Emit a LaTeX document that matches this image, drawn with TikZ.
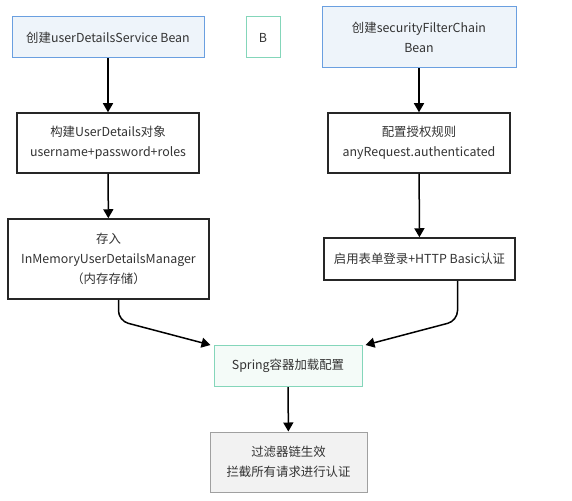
\documentclass[tikz,border=0pt]{standalone}
\usepackage{fontspec}
\setmainfont{Noto Sans CJK SC}
\usetikzlibrary{positioning,arrows.meta}
\definecolor{startC}{HTML}{EEF4FA}
\definecolor{startB}{HTML}{6A9FE0}
\definecolor{springC}{HTML}{F4FBF8}
\definecolor{springB}{HTML}{84D6BA}
\definecolor{endC}{HTML}{F2F2F2}
\definecolor{endB}{HTML}{A0A0A0}
\definecolor{txtC}{HTML}{333333}
\tikzset{
  box/.style={draw, rectangle, align=center, text=txtC, inner sep=2pt,
              font=\fontsize{12.4}{20}\selectfont, line width=1.5pt},
  startbox/.style={box, draw=startB, fill=startC, line width=1pt},
  stepbox/.style={box, draw=black!85, fill=white},
  springbox/.style={box, draw=springB, fill=springC, line width=1pt},
  endbox/.style={box, draw=endB, fill=endC, line width=1pt},
  flow/.style={-{Triangle[length=9pt,width=10pt]}, line width=1.5pt},
}
\begin{document}
\begin{tikzpicture}[x=1pt,y=-1pt]
\useasboundingbox (0,0) rectangle (572,500);
% left branch
\node[startbox, minimum width=192pt, minimum height=41pt] (uds) at (108,37.5) {创建userDetailsService Bean};
\node[stepbox, minimum width=182pt, minimum height=60pt] (build) at (108,143) {构建UserDetails对象\\username+password+roles};
\node[stepbox, minimum width=201pt, minimum height=80pt] (store) at (108.5,259) {存入\\InMemoryUserDetailsManager\\（内存存储）};
% the lone B
\node[springbox, fill=white, minimum width=34pt, minimum height=41pt] (bnode) at (263,37.5) {B};
% right branch
\node[startbox, minimum width=194pt, minimum height=61pt] (sfc) at (419,37.5) {创建securityFilterChain\\Bean};
\node[stepbox, minimum width=182pt, minimum height=60pt] (authz) at (419,143) {配置授权规则\\anyRequest.authenticated};
\node[stepbox, minimum width=191pt, minimum height=42pt] (login) at (419.5,259) {启用表单登录+HTTP Basic认证};
% merge
\node[springbox, minimum width=148pt, minimum height=41pt] (spring) at (288,366) {Spring容器加载配置};
\node[endbox, minimum width=157pt, minimum height=60pt] (filter) at (288.5,462) {过滤器链生效\\拦截所有请求进行认证};

\draw[flow] (uds) -- (build);
\draw[flow] (build) -- (store);
\draw[flow] (sfc) -- (authz);
\draw[flow] (authz) -- (login);
\draw[flow, rounded corners=10pt] ([xshift=10pt]store.south) -- ++(0,21) -- ([xshift=-3pt]spring.north west);
\draw[flow, rounded corners=10pt] ([xshift=38pt]login.south) -- ++(0,40) -- ([xshift=3pt]spring.north east);
\draw[flow] (spring) -- (filter);
\end{tikzpicture}
\end{document}
